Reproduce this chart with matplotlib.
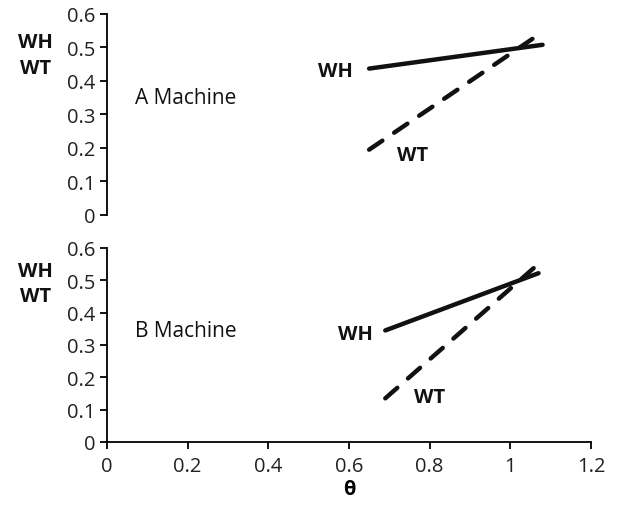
import matplotlib
matplotlib.use("Agg")
import matplotlib.pyplot as plt

plt.rcParams['font.family'] = ['Open Sans', 'DejaVu Sans']

theta_A = [0.65, 1.08]
wh_A = [0.437, 0.508]
theta_A_wt = [0.65, 1.06]
wt_A = [0.195, 0.530]

theta_B = [0.69, 1.07]
wh_B = [0.345, 0.522]
theta_B_wt = [0.69, 1.06]
wt_B = [0.135, 0.540]

yticks = [0, 0.1, 0.2, 0.3, 0.4, 0.5, 0.6]
xticks = [0, 0.2, 0.4, 0.6, 0.8, 1, 1.2]
xtick_labels = ['0', '0.2', '0.4', '0.6', '0.8', '1', '1.2']
ytick_labels = ['0', '0.1', '0.2', '0.3', '0.4', '0.5', '0.6']

fig = plt.figure(figsize=(6.23, 5.10), dpi=100)
axA = fig.add_axes([0.1717, 0.5765, 0.9486 - 0.1717, 0.9706 - 0.5765])
axB = fig.add_axes([0.1717, 0.1314, 0.9486 - 0.1717, 0.5118 - 0.1314])

fs = 14.5
fl = 15
for ax in (axA, axB):
    ax.set_xlim(0, 1.2)
    ax.set_ylim(0, 0.6)
    ax.spines['top'].set_visible(False)
    ax.spines['right'].set_visible(False)
    ax.spines['left'].set_linewidth(1.3)
    ax.spines['bottom'].set_linewidth(1.3)
    ax.set_yticks(yticks)
    ax.set_yticklabels(ytick_labels, fontsize=fs, color='#222222')
    ax.tick_params(axis='y', direction='out', length=5, width=1.3, pad=3)
    ax.tick_params(axis='x', direction='out', length=5, width=1.3, pad=5)

axA.spines['bottom'].set_visible(False)
axA.set_xticks([])
axB.set_xticks(xticks)
axB.set_xticklabels(xtick_labels, fontsize=fs, color='#222222')
axB.set_xlabel('θ', fontsize=fs, fontweight='bold', labelpad=2)

lw = 3.2
dash = (0, (3.6, 3.2))
axA.plot(theta_A, wh_A, color='#111111', lw=lw, solid_capstyle='round')
axA.plot(theta_A_wt, wt_A, color='#111111', lw=lw, linestyle=dash, dash_capstyle='round')
axB.plot(theta_B, wh_B, color='#111111', lw=lw, solid_capstyle='round')
axB.plot(theta_B_wt, wt_B, color='#111111', lw=lw, linestyle=dash, dash_capstyle='round')

axA.text(0.07, 0.35, 'A Machine', fontsize=fl, va='center', ha='left', color='#111111')
axB.text(0.07, 0.345, 'B Machine', fontsize=fl, va='center', ha='left', color='#111111')
axA.text(0.61, 0.43, 'WH', fontsize=fs, fontweight='bold', va='center', ha='right', color='#111111')
axA.text(0.72, 0.18, 'WT', fontsize=fs, fontweight='bold', va='center', ha='left', color='#111111')
axB.text(0.66, 0.335, 'WH', fontsize=fs, fontweight='bold', va='center', ha='right', color='#111111')
axB.text(0.76, 0.14, 'WT', fontsize=fs, fontweight='bold', va='center', ha='left', color='#111111')

for ax, y1, y2 in ((axA, 0.515, 0.44), (axB, 0.53, 0.45)):
    ax.text(-0.148, y1, 'WH', fontsize=fs, fontweight='bold', va='center', ha='center',
            transform=ax.get_yaxis_transform(), color='#111111')
    ax.text(-0.148, y2, 'WT', fontsize=fs, fontweight='bold', va='center', ha='center',
            transform=ax.get_yaxis_transform(), color='#111111')

fig.savefig('out.png', dpi=100)
